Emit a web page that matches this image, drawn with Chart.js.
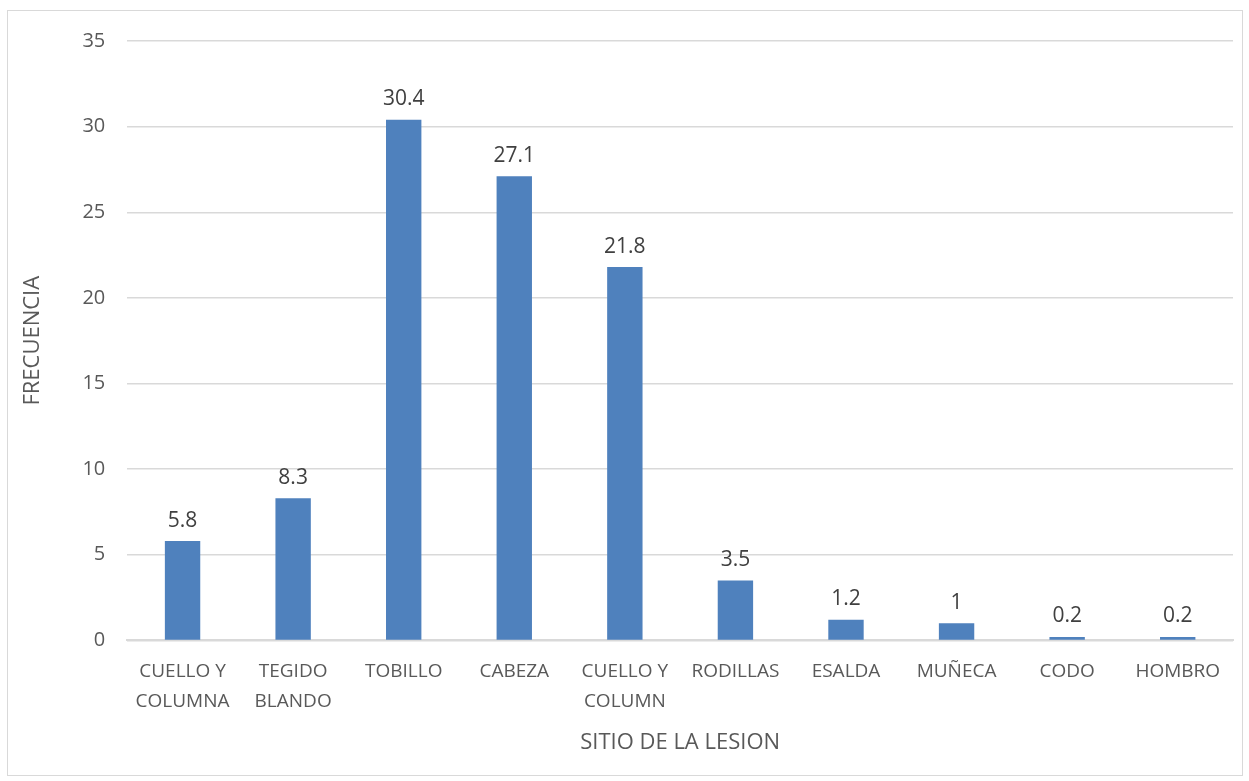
<!DOCTYPE html>
<html>
<head>
<meta charset="utf-8">
<script src="https://cdn.jsdelivr.net/npm/chart.js@4.4.0/dist/chart.umd.min.js"></script>
<style>
  body { margin: 0; background: #fff; }
  #frame { position: absolute; left: 7px; top: 10px; width: 1236px; height: 766px; border: 1px solid #d9d9d9; box-sizing: border-box; }
  #wrap { position: absolute; left: 0; top: 0; width: 1249px; height: 781px; }
</style>
</head>
<body>
<div id="frame"></div>
<div id="wrap"><canvas id="chart"></canvas></div>
<script>
// chart data
const categories = [
  ["CUELLO Y", "COLUMNA"],
  ["TEGIDO", "BLANDO"],
  "TOBILLO",
  "CABEZA",
  ["CUELLO Y", "COLUMN"],
  "RODILLAS",
  "ESALDA",
  "MUÑECA",
  "CODO",
  "HOMBRO",
];
const frecuencia = [5.8, 8.3, 30.4, 27.1, 21.8, 3.5, 1.2, 1, 0.2, 0.2];
const yTicks = [0, 5, 10, 15, 20, 25, 30, 35];

const fontFamily = "'Open Sans', 'Liberation Sans', sans-serif";

// draw value labels above the bars
const valueLabels = {
  id: "valueLabels",
  afterDatasetsDraw(chart) {
    const ctx = chart.ctx;
    const meta = chart.getDatasetMeta(0);
    ctx.save();
    ctx.font = "21px " + fontFamily;
    ctx.fillStyle = "#404040";
    ctx.textAlign = "center";
    ctx.textBaseline = "bottom";
    meta.data.forEach((bar, i) => {
      ctx.fillText(String(frecuencia[i]), bar.x, bar.y - 10);
    });
    ctx.restore();
  },
};

const ctx = document.getElementById("chart").getContext("2d");
new Chart(ctx, {
  type: "bar",
  data: {
    labels: categories,
    datasets: [
      {
        label: "FRECUENCIA",
        data: frecuencia,
        backgroundColor: "#4f81bd",
        categoryPercentage: 1,
        barPercentage: 0.32,
      },
    ],
  },
  options: {
    responsive: true,
    maintainAspectRatio: false,
    animation: false,
    layout: { padding: { left: 16, right: 16, top: 41, bottom: 24 } },
    plugins: {
      legend: { display: false },
      tooltip: { enabled: false },
    },
    scales: {
      x: {
        grid: { display: false, drawTicks: false },
        border: { color: "#d9d9d9", width: 2 },
        ticks: {
          color: "#595959",
          font: { family: fontFamily, size: 19, lineHeight: 1.6 },
          padding: 16,
          maxRotation: 0,
          autoSkip: false,
        },
        title: {
          display: true,
          text: "SITIO DE LA LESION",
          color: "#595959",
          font: { family: fontFamily, size: 22, lineHeight: 0.9 },
          padding: { top: 0 },
        },
      },
      y: {
        min: 0,
        max: 35,
        afterBuildTicks(axis) {
          axis.ticks = yTicks.map((v) => ({ value: v }));
        },
        grid: { color: "#d9d9d9", lineWidth: 1.5, drawTicks: false },
        border: { display: false },
        ticks: {
          color: "#595959",
          font: { family: fontFamily, size: 20 },
          padding: 22,
        },
        title: {
          display: true,
          text: "FRECUENCIA",
          color: "#595959",
          font: { family: fontFamily, size: 22 },
          padding: { bottom: 14 },
        },
      },
    },
  },
  plugins: [valueLabels],
});
</script>
</body>
</html>
